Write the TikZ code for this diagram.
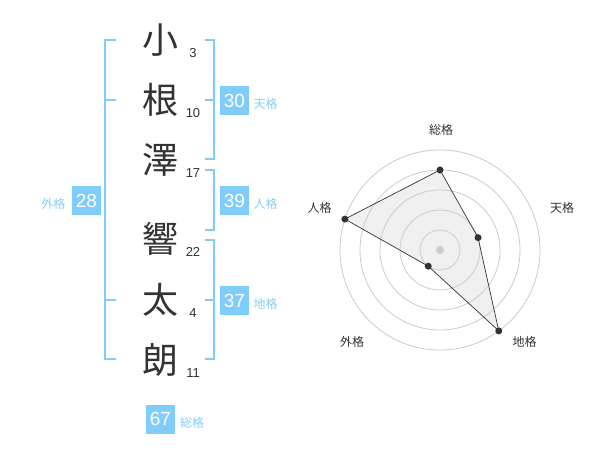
\documentclass[tikz,border=0pt]{standalone}
\usepackage{fontspec}
\setmainfont{Liberation Sans}
\newfontfamily\cjk{Noto Sans CJK JP}
\definecolor{blu}{RGB}{128,204,250}
\definecolor{blulab}{RGB}{135,207,247}
\definecolor{ink}{RGB}{51,51,51}
\definecolor{ringc}{RGB}{204,204,204}
\definecolor{polyfill}{RGB}{240,240,240}
\begin{document}
\begin{tikzpicture}[x=1pt,y=-1pt,
  kanji/.style={inner sep=0pt,text=ink,font=\cjk\fontsize{36}{36}\selectfont},
  num/.style={inner sep=0pt,text=ink,font=\fontsize{13}{13}\selectfont},
  br/.style={draw=blu,line width=2pt},
  valbox/.style={fill=blu,text=white,inner sep=0pt,minimum size=29pt,font=\fontsize{19}{19}\selectfont},
  lab/.style={inner sep=0pt,text=blulab,font=\cjk\fontsize{12}{12}\selectfont},
  ring/.style={draw=ringc,line width=0.8pt},
  polyfillst/.style={fill=polyfill},
  polyline/.style={draw=ink,line width=0.7pt},
  dot/.style={circle,fill=ink,inner sep=0pt,minimum size=7pt},
  rlab/.style={inner sep=0pt,text=ink,font=\cjk\fontsize{12}{12}\selectfont}]
\useasboundingbox[fill=white] (0,0) rectangle (600,470);

% kanji
\node[kanji] (k1) at (160,40) {小};
\node[kanji] (k2) at (160,100) {根};
\node[kanji] (k3) at (160,160) {澤};
\node[kanji] (k4) at (160,239) {響};
\node[kanji] (k5) at (160,300) {太};
\node[kanji] (k6) at (160,360) {朗};
% stroke counts
\node[num] (n1) at (193,53) {3};
\node[num] (n2) at (193,113) {10};
\node[num] (n3) at (193,173) {17};
\node[num] (n4) at (193,252) {22};
\node[num] (n5) at (193,313) {4};
\node[num] (n6) at (193,373) {11};

% left bracket (gaikaku)
\draw[br] (116,40) -- (105,40) -- (105,359) -- (116,359);
\draw[br] (105,100) -- (116,100);
\draw[br] (105,300) -- (116,300);
% right brackets
\draw[br] (205,40) -- (214,40) -- (214,159) -- (205,159);
\draw[br] (205,100) -- (214,100);
\draw[br] (205,170) -- (214,170) -- (214,230) -- (205,230);
\draw[br] (205,240) -- (214,240) -- (214,359) -- (205,359);
\draw[br] (205,300) -- (214,300);

% value boxes
\node[valbox] (b30) at (234.5,100.5) {30};
\node[lab] (l30) at (265.5,104) {天格};
\node[valbox] (b39) at (234.5,200.5) {39};
\node[lab] (l39) at (265.5,204) {人格};
\node[valbox] (b37) at (234.5,300.5) {37};
\node[lab] (l37) at (265.5,304) {地格};
\node[valbox] (b28) at (86.5,200.5) {28};
\node[lab] (l28) at (53.5,204) {外格};
\node[valbox] (b67) at (160.5,419) {67};
\node[lab] (l67) at (192,423) {総格};

% radar chart
\begin{scope}[shift={(440,250)},yscale=-1]
  \coordinate (p1) at (90:80);
  \coordinate (p2) at (18:40);
  \coordinate (p3) at (-54:100);
  \coordinate (p4) at (-126:20);
  \coordinate (p5) at (162:100);
  \fill[polyfillst] (p1) -- (p2) -- (p3) -- (p4) -- (p5) -- cycle;
  \foreach \r in {20,40,60,80,100} \draw[ring] (0,0) circle[radius=\r];
  \node[circle,fill=ringc,inner sep=0pt,minimum size=8pt] (c0) at (0,0) {};
  \draw[polyline] (p1) -- (p2) -- (p3) -- (p4) -- (p5) -- cycle;
  \node[dot] (d1) at (p1) {};
  \node[dot] (d2) at (p2) {};
  \node[dot] (d3) at (p3) {};
  \node[dot] (d4) at (p4) {};
  \node[dot] (d5) at (p5) {};
\end{scope}
\node[rlab] (r1) at (441,130) {総格};
\node[rlab] (r2) at (562,208) {天格};
\node[rlab] (r3) at (524.5,342) {地格};
\node[rlab] (r4) at (352,342) {外格};
\node[rlab] (r5) at (319.5,208) {人格};
\end{tikzpicture}
\end{document}
